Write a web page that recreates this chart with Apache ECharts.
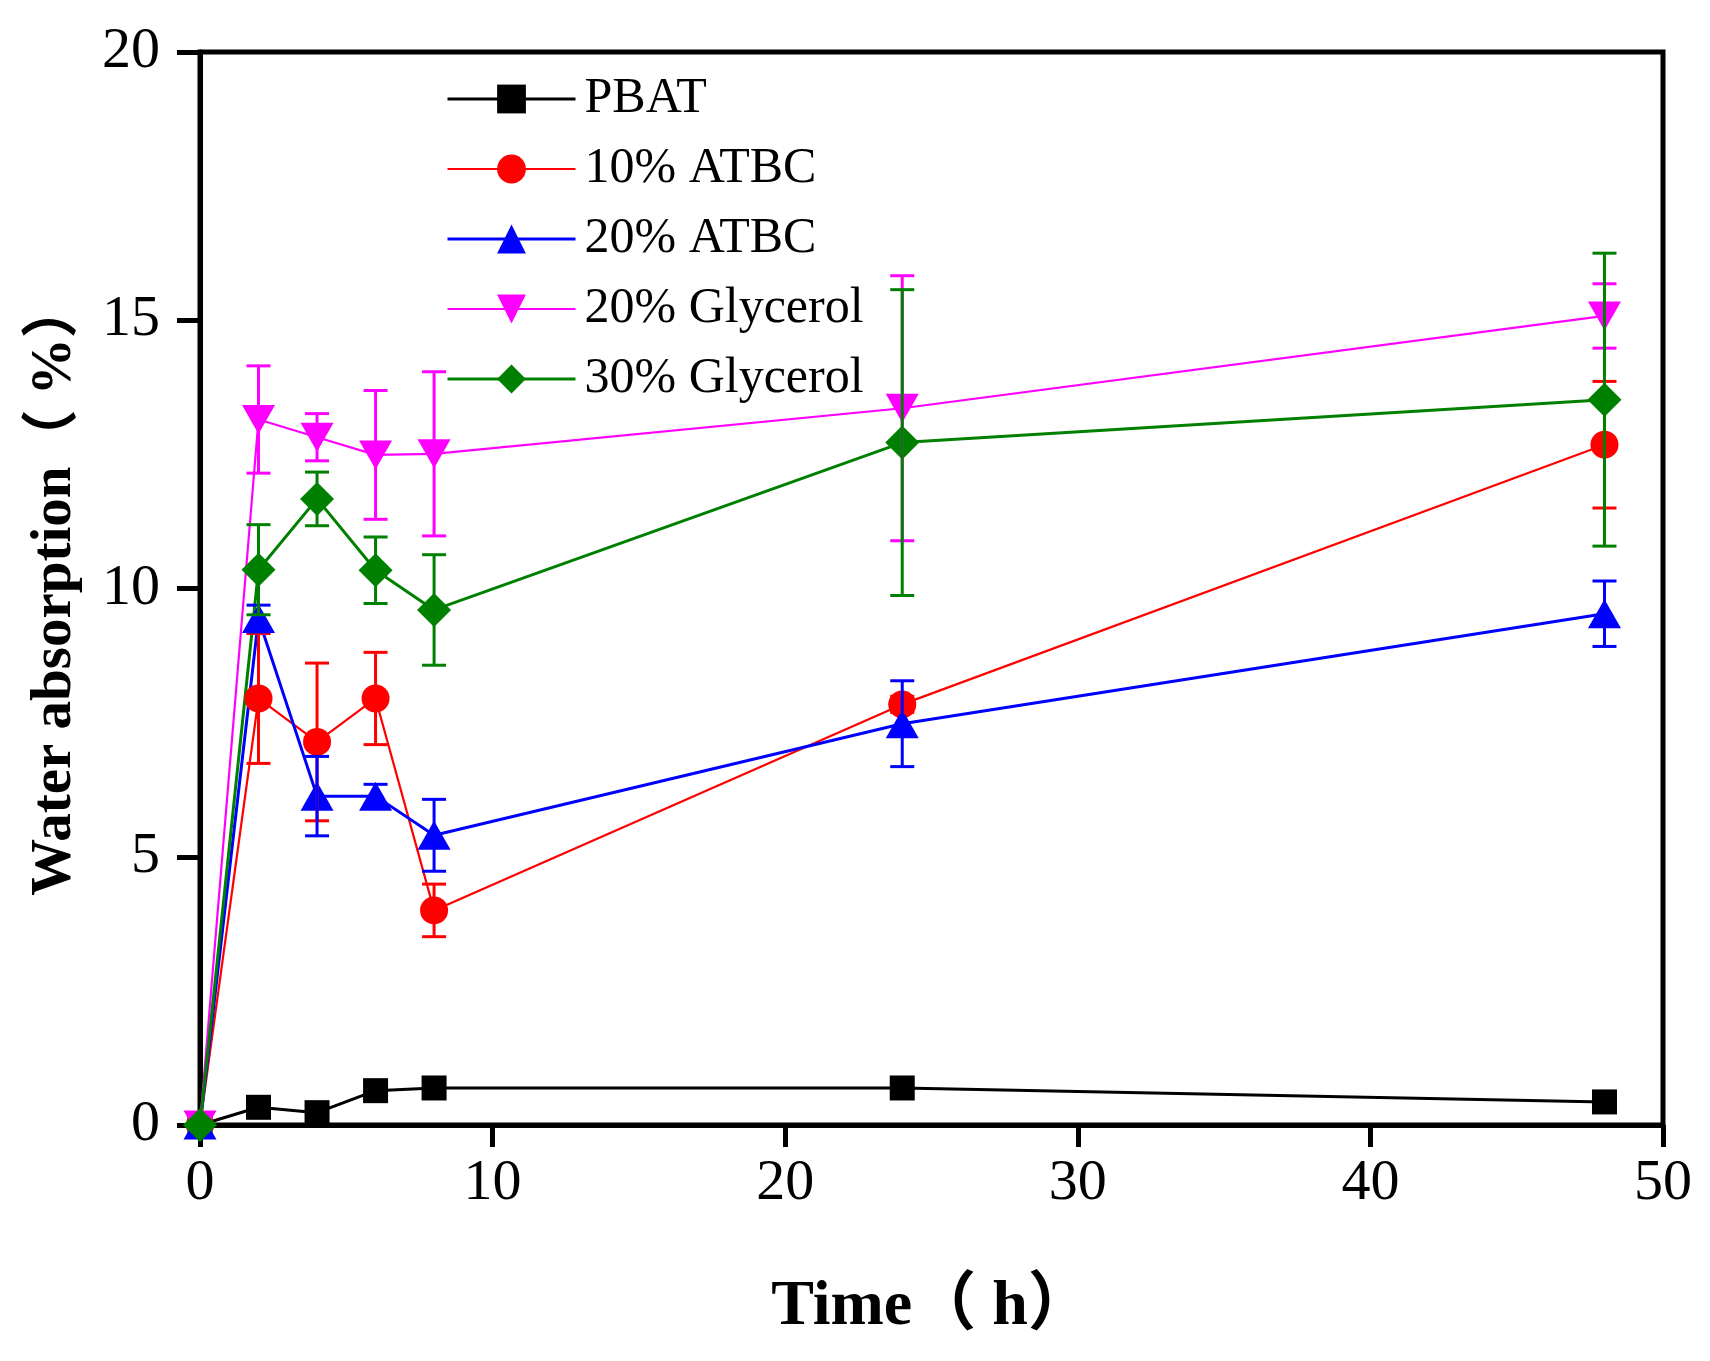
<!DOCTYPE html>
<html>
<head>
<meta charset="utf-8">
<script src="https://cdn.jsdelivr.net/npm/echarts@6/dist/echarts.min.js"></script>
<style>
  html, body { margin: 0; padding: 0; background: #fff; }
  #main { width: 1710px; height: 1361px; }
</style>
</head>
<body>
<div id="main"></div>
<script>
// 时间点 (h)
var time = [0, 2, 4, 6, 8, 24, 48];

var seriesNames = ['PBAT', '10% ATBC', '20% ATBC', '20% Glycerol', '30% Glycerol'];

var pbat = [0, 0.33, 0.23, 0.64, 0.69, 0.69, 0.43];
var atbc10 = [0, 7.95, 7.14, 7.95, 4.00, 7.84, 12.68];
var atbc10Err = [0, 1.21, 1.47, 0.86, 0.49, 0.15, 1.18];
var atbc20 = [0, 9.44, 6.13, 6.13, 5.40, 7.48, 9.53];
var atbc20Err = [0, 0.25, 0.74, 0.22, 0.67, 0.80, 0.61];
var gly20 = [0, 13.15, 12.82, 12.49, 12.51, 13.36, 15.08];
var gly20Err = [0, 1.00, 0.44, 1.20, 1.53, 2.47, 0.60];
var gly30 = [0, 10.35, 11.67, 10.34, 9.60, 12.72, 13.52];
var gly30Err = [0, 0.84, 0.50, 0.62, 1.03, 2.85, 2.73];

var xTicks = [0, 10, 20, 30, 40, 50];
var yTicks = [0, 5, 10, 15, 20];

var serif = '"Liberation Serif", "Times New Roman", "Noto Sans CJK SC", serif';

function pairs(vals) {
    var out = [];
    for (var i = 0; i < time.length; i++) out.push([time[i], vals[i]]);
    return out;
}

function lineSeries(name, color, vals, symbol, size, width, rotate) {
    return {
        name: name,
        type: 'line',
        data: pairs(vals),
        symbol: symbol,
        symbolSize: size,
        symbolRotate: rotate || 0,
        showAllSymbol: true,
        lineStyle: { color: color, width: width },
        itemStyle: { color: color },
        z: 3
    };
}

function errorSeries(color, vals, errs) {
    var d = [];
    for (var i = 0; i < time.length; i++) {
        if (errs[i] > 0) d.push([time[i], vals[i] - errs[i], vals[i] + errs[i]]);
    }
    return {
        type: 'custom',
        data: d,
        z: 4,
        silent: true,
        renderItem: function (params, api) {
            var x = api.value(0);
            var lo = api.coord([x, api.value(1)]);
            var hi = api.coord([x, api.value(2)]);
            var w = 12;
            var st = { stroke: color, lineWidth: 3 };
            return {
                type: 'group',
                children: [
                    { type: 'line', shape: { x1: hi[0], y1: hi[1], x2: lo[0], y2: lo[1] }, style: st },
                    { type: 'line', shape: { x1: hi[0] - w, y1: hi[1], x2: hi[0] + w, y2: hi[1] }, style: st },
                    { type: 'line', shape: { x1: lo[0] - w, y1: lo[1], x2: lo[0] + w, y2: lo[1] }, style: st }
                ]
            };
        }
    };
}

var myChart = echarts.init(document.getElementById('main'));
var option = {
    backgroundColor: '#fff',
    animation: false,
    grid: {
        left: 200, right: 47, top: 52, bottom: 236,
        show: true, borderColor: '#000', borderWidth: 5
    },
    legend: {
        data: seriesNames,
        orient: 'vertical',
        left: 441,
        top: 69,
        itemWidth: 128,
        itemHeight: 36,
        itemGap: 20,
        lineStyle: { width: 'inherit' },
        textStyle: { fontFamily: serif, fontSize: 50, color: '#000', lineHeight: 48, padding: [0, 0, 0, 4] }
    },
    xAxis: {
        type: 'value',
        min: 0, max: 50, interval: 10,
        name: 'Time（ h）',
        nameLocation: 'middle',
        nameGap: 150,
        nameTextStyle: { fontFamily: serif, fontSize: 64, fontWeight: 'bold', color: '#000' },
        axisLine: { lineStyle: { color: '#000', width: 5 } },
        axisTick: { inside: false, length: 22, lineStyle: { width: 5, color: '#000' } },
        axisLabel: {
            margin: 30, fontFamily: serif, fontSize: 58, color: '#000',
            customValues: xTicks
        },
        splitLine: { show: false }
    },
    yAxis: {
        type: 'value',
        min: 0, max: 20, interval: 5,
        name: 'Water absorption（ %）',
        nameLocation: 'middle',
        nameGap: 116,
        nameTextStyle: { fontFamily: serif, fontSize: 57, fontWeight: 'bold', color: '#000' },
        axisLine: { lineStyle: { color: '#000', width: 5 } },
        axisTick: { inside: false, length: 23, lineStyle: { width: 5, color: '#000' } },
        axisLabel: { margin: 40, fontFamily: serif, fontSize: 58, color: '#000', customValues: yTicks },
        splitLine: { show: false }
    },
    series: [
        lineSeries('PBAT', '#000000', pbat, 'rect', 25, 3),
        lineSeries('10% ATBC', '#FF0000', atbc10, 'circle', 28, 2.2),
        lineSeries('20% ATBC', '#0000FF', atbc20, 'triangle', [33, 29], 3),
        lineSeries('20% Glycerol', '#FF00FF', gly20, 'triangle', [33, 29], 2.2, 180),
        lineSeries('30% Glycerol', '#008000', gly30, 'diamond', [34, 34], 3),
        errorSeries('#FF0000', atbc10, atbc10Err),
        errorSeries('#0000FF', atbc20, atbc20Err),
        errorSeries('#FF00FF', gly20, gly20Err),
        errorSeries('#008000', gly30, gly30Err)
    ]
};
myChart.setOption(option);
</script>
</body>
</html>
